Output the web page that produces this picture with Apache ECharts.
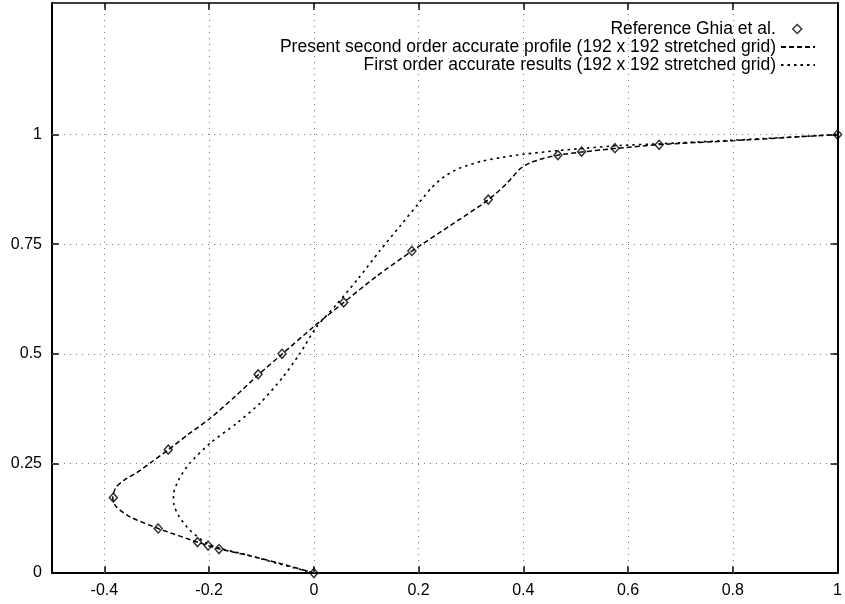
<!DOCTYPE html>
<html>
<head>
<meta charset="utf-8">
<script src="https://cdn.jsdelivr.net/npm/echarts@6/dist/echarts.min.js"></script>
<style>html,body{margin:0;padding:0;background:#fff;}#c{width:845px;height:604px;}</style>
</head>
<body>
<div id="c"></div>
<script>
// Tick values
const xTicks = [-0.4, -0.2, 0, 0.2, 0.4, 0.6, 0.8, 1];
const yTicks = [0, 0.25, 0.5, 0.75, 1];
const xGrid = [-0.4, -0.2, 0, 0.2, 0.4, 0.6, 0.8];
const yGrid = [0.25, 0.5, 0.75, 1];

// Series names
const nameGhia = 'Reference Ghia et al.';
const nameSecond = 'Present second order accurate profile (192 x 192 stretched grid)';
const nameFirst = 'First order accurate results (192 x 192 stretched grid)';

// Reference Ghia et al. points: [u, y]
const ghiaU = [0.0, -0.18109, -0.20196, -0.22220, -0.29730, -0.38289, -0.27805, -0.10648, -0.06080, 0.05702, 0.18719, 0.33304, 0.46604, 0.51117, 0.57492, 0.65928, 1.0];
const ghiaY = [0.0, 0.0547, 0.0625, 0.0703, 0.1016, 0.1719, 0.2813, 0.4531, 0.5000, 0.6172, 0.7344, 0.8516, 0.9531, 0.9609, 0.9688, 0.9766, 1.0];

// Second order profile
const secondU = [0, -0.065, -0.128, -0.181, -0.221, -0.296, -0.351, -0.378, -0.384, -0.378, -0.362, -0.338, -0.310, -0.278, -0.240, -0.198, -0.150, -0.106, -0.060, 0.0, 0.057, 0.120, 0.187, 0.260, 0.333, 0.368, 0.393, 0.412, 0.440, 0.466, 0.511, 0.574, 0.659, 0.800, 1.0];
const secondY = [0, 0.022, 0.041, 0.055, 0.070, 0.101, 0.128, 0.152, 0.172, 0.195, 0.212, 0.229, 0.253, 0.281, 0.316, 0.353, 0.403, 0.452, 0.500, 0.562, 0.617, 0.677, 0.734, 0.792, 0.851, 0.888, 0.921, 0.935, 0.946, 0.953, 0.960, 0.968, 0.977, 0.986, 1.0];

// First order results
const firstU = [0, -0.070, -0.130, -0.175, -0.205, -0.237, -0.258, -0.267, -0.268, -0.258, -0.237, -0.198, -0.148, -0.103, -0.059, -0.027, 0.005, 0.043, 0.085, 0.126, 0.165, 0.200, 0.225, 0.250, 0.280, 0.320, 0.360, 0.400, 0.463, 0.520, 0.584, 0.660, 0.800, 1.0];
const firstY = [0, 0.022, 0.042, 0.055, 0.068, 0.098, 0.130, 0.155, 0.178, 0.213, 0.250, 0.296, 0.341, 0.387, 0.447, 0.500, 0.561, 0.612, 0.672, 0.735, 0.792, 0.843, 0.879, 0.905, 0.924, 0.939, 0.948, 0.955, 0.963, 0.969, 0.975, 0.979, 0.987, 1.0];

const zip = (a, b) => a.map((v, i) => [v, b[i]]);
const FONT = 'Liberation Sans';
const axisLineStyle = { color: '#000', width: 2 };

const chart = echarts.init(document.getElementById('c'), null, { renderer: 'canvas' });
const legendText = { fontFamily: FONT, fontSize: 17.5, color: '#000', lineHeight: 18 };
const lineLegend = {
  right: 24, orient: 'horizontal', align: 'right', itemWidth: 34, itemHeight: 14,
  textStyle: Object.assign({ padding: [0, 0, 0, 0] }, legendText),
  itemStyle: { color: 'rgba(0,0,0,0)', borderWidth: 0, opacity: 0 },
  selectedMode: false
};
chart.setOption({
  animation: false,
  backgroundColor: '#fff',
  grid: { left: 52, right: 7, top: 3, bottom: 31 },
  legend: [
    {
      right: 37.5, top: 15, orient: 'horizontal', align: 'right', itemWidth: 9, itemHeight: 9,
      textStyle: Object.assign({ padding: [0, 12, 0, 0] }, legendText),
      selectedMode: false,
      data: [{ name: nameGhia, icon: 'diamond' }],
      itemStyle: { color: 'rgba(255,255,255,0)', borderColor: '#000', borderWidth: 1.5 }
    },
    Object.assign({}, lineLegend, { top: 33, data: [nameSecond] }),
    Object.assign({}, lineLegend, { top: 51, data: [nameFirst] })
  ],
  xAxis: [
    {
      type: 'value', min: -0.5, max: 1, position: 'bottom',
      axisLine: { onZero: false, lineStyle: axisLineStyle },
      axisTick: { inside: true, length: 7, customValues: xTicks, lineStyle: { color: '#000', width: 1.5 } },
      axisLabel: { customValues: xTicks, margin: 10, fontFamily: FONT, fontSize: 16, color: '#000' },
      splitLine: { show: false }
    },
    {
      type: 'value', min: -0.5, max: 1, position: 'top',
      axisLine: { onZero: false, lineStyle: { color: '#000', width: 1.5 } },
      axisTick: { inside: true, length: 7, customValues: xTicks, lineStyle: { color: '#000', width: 1.5 } },
      axisLabel: { show: false },
      splitLine: { show: false }
    }
  ],
  yAxis: [
    {
      type: 'value', min: 0, max: 1.3, position: 'left',
      axisLine: { onZero: false, lineStyle: axisLineStyle },
      axisTick: { inside: true, length: 7, customValues: yTicks, lineStyle: { color: '#000', width: 1.5 } },
      axisLabel: { customValues: yTicks, margin: 10, fontFamily: FONT, fontSize: 16, color: '#000' },
      splitLine: { show: false }
    },
    {
      type: 'value', min: 0, max: 1.3, position: 'right',
      axisLine: { onZero: false, lineStyle: axisLineStyle },
      axisTick: { inside: true, length: 7, customValues: yTicks, lineStyle: { color: '#000', width: 1.5 } },
      axisLabel: { show: false },
      splitLine: { show: false }
    }
  ],
  series: [
    {
      name: 'grid', type: 'line', data: [], z: 1, silent: true,
      markLine: {
        silent: true, symbol: 'none', animation: false,
        label: { show: false },
        lineStyle: { color: '#7a7a7a', width: 1, type: [1, 5] },
        data: xGrid.map(v => ({ xAxis: v })).concat(yGrid.map(v => ({ yAxis: v })))
      }
    },
    {
      name: nameSecond, type: 'line', data: zip(secondU, secondY), symbol: 'none',
      smooth: 0.25, z: 3,
      lineStyle: { color: '#000', width: 1.5, type: [5, 3] },
      itemStyle: { color: '#000' }
    },
    {
      name: nameFirst, type: 'line', data: zip(firstU, firstY), symbol: 'none',
      smooth: 0.25, z: 3,
      lineStyle: { color: '#000', width: 1.6, type: [2.5, 4] },
      itemStyle: { color: '#000' }
    },
    {
      name: nameGhia, type: 'scatter', data: zip(ghiaU, ghiaY), symbol: 'diamond',
      symbolSize: [8, 9], z: 4,
      itemStyle: { color: 'rgba(255,255,255,0)', borderColor: '#000', borderWidth: 1.5 }
    }
  ]
});
</script>
</body>
</html>
